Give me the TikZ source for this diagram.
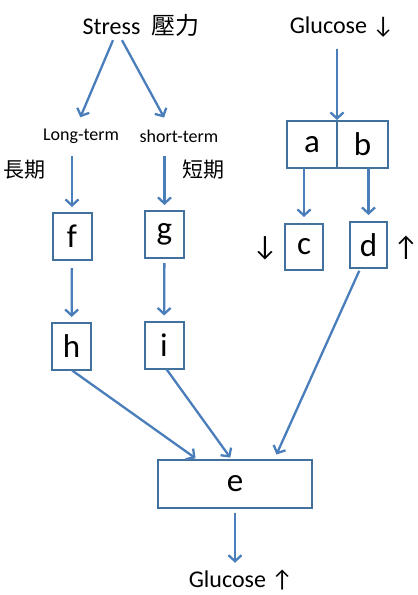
\documentclass[tikz,border=0pt]{standalone}
\usepackage{fontspec}
\setmainfont{Carlito}
\newfontfamily\cjk{Noto Sans CJK TC}
\usetikzlibrary{arrows.meta,positioning}
\definecolor{boxblue}{HTML}{41719C}
\definecolor{arrowblue}{HTML}{4A7EBB}

\begin{document}
\begin{tikzpicture}[x=1pt, y=-1pt,
  box/.style={draw=boxblue, line width=2pt, inner sep=0pt, outer sep=0pt,
    minimum width=39pt, minimum height=47pt,
    font=\fontsize{33}{33}\selectfont},
  title/.style={inner sep=0pt, minimum height=30pt,
    font=\fontsize{24}{24}\selectfont},
  term/.style={inner sep=0pt, minimum height=26pt,
    font=\fontsize{18}{18}\selectfont},
  zh/.style={inner sep=0pt, font=\fontsize{21}{21}\selectfont\cjk},
  updown/.style={inner sep=0pt, font=\fontsize{28}{28}\selectfont},
  arrow/.style={-{Straight Barb[length=6pt,width=13pt]}, line width=2.3pt,
    draw=arrowblue, shorten <=7pt, shorten >=6pt}
]
\useasboundingbox (0,0) rectangle (418,595);
\node[title] (stress) at (141,25) {Stress\hspace{11pt}{\cjk 壓力}};
\node[title] (gluin) at (342,27) {Glucose ↓};
\node[term] (longterm) at (81,136) {Long-term};
\node[term] (shortterm) at (179,136) {short-term};
\node[zh] (longzh) at (25,170) {長期};
\node[zh] (shortzh) at (203,170) {短期};
\node[box] (f) at (72,236.5) {f};
\node[box] (g) at (164.5,234.5) {g};
\node[box] (h) at (71.5,346.5) {h};
\node[box] (i) at (164,345) {i};
\node[box, minimum width=50pt] (a) at (312,144.5) {a};
\node[box, minimum width=51pt, right=0pt of a] (b) {b};
\node[box, minimum width=38pt, minimum height=46pt] (c) at (304,247) {c};
\node[box, minimum width=37pt, minimum height=46pt] (d) at (368.5,245) {d};
\node[updown] (cdown) at (265,248) {↓};
\node[updown] (dup) at (406,248) {↑};
\node[box, minimum width=154pt, minimum height=48pt] (e) at (235,484) {e};
\node[title, minimum height=20pt] (gluout) at (241,580) {Glucose ↑};
% stress splits in two
\draw[arrow, shorten <=0pt] ([xshift=-28pt]stress.south) -- ([xshift=-3pt]longterm.north);
\draw[arrow, shorten <=0pt] ([xshift=-19pt]stress.south) -- ([xshift=-12pt]shortterm.north);
\draw[arrow] (longterm.south -| f.north) -- (f.north);
\draw[arrow] (shortterm.south -| g.north) -- (g.north);
\draw[arrow, shorten <=8pt] (f) -- (h);
\draw[arrow, shorten <=5pt] (g) -- (i);
% glucose side
\draw[arrow, shorten >=1pt] (gluin.south -| a.north east) -- (a.north east);
\draw[arrow, shorten <=0pt, shorten >=7pt] (c.north |- a.south) -- (c.north);
\draw[arrow, shorten <=0pt, shorten >=7pt] (d.north |- b.south) -- (d.north);
% into e
\draw[arrow, shorten <=1pt, shorten >=3pt] (h.south) -- ([xshift=-37pt]e.north);
\draw[arrow, shorten <=1pt, shorten >=3pt] ([xshift=2pt]i.south) -- ([xshift=-3pt]e.north);
\draw[arrow, shorten <=3pt] ([xshift=-8pt]d.south) -- ([xshift=39pt]e.north);
\draw[arrow, shorten <=5pt, shorten >=7pt] (e.south) -- (e.south |- gluout.north);
\end{tikzpicture}
\end{document}
